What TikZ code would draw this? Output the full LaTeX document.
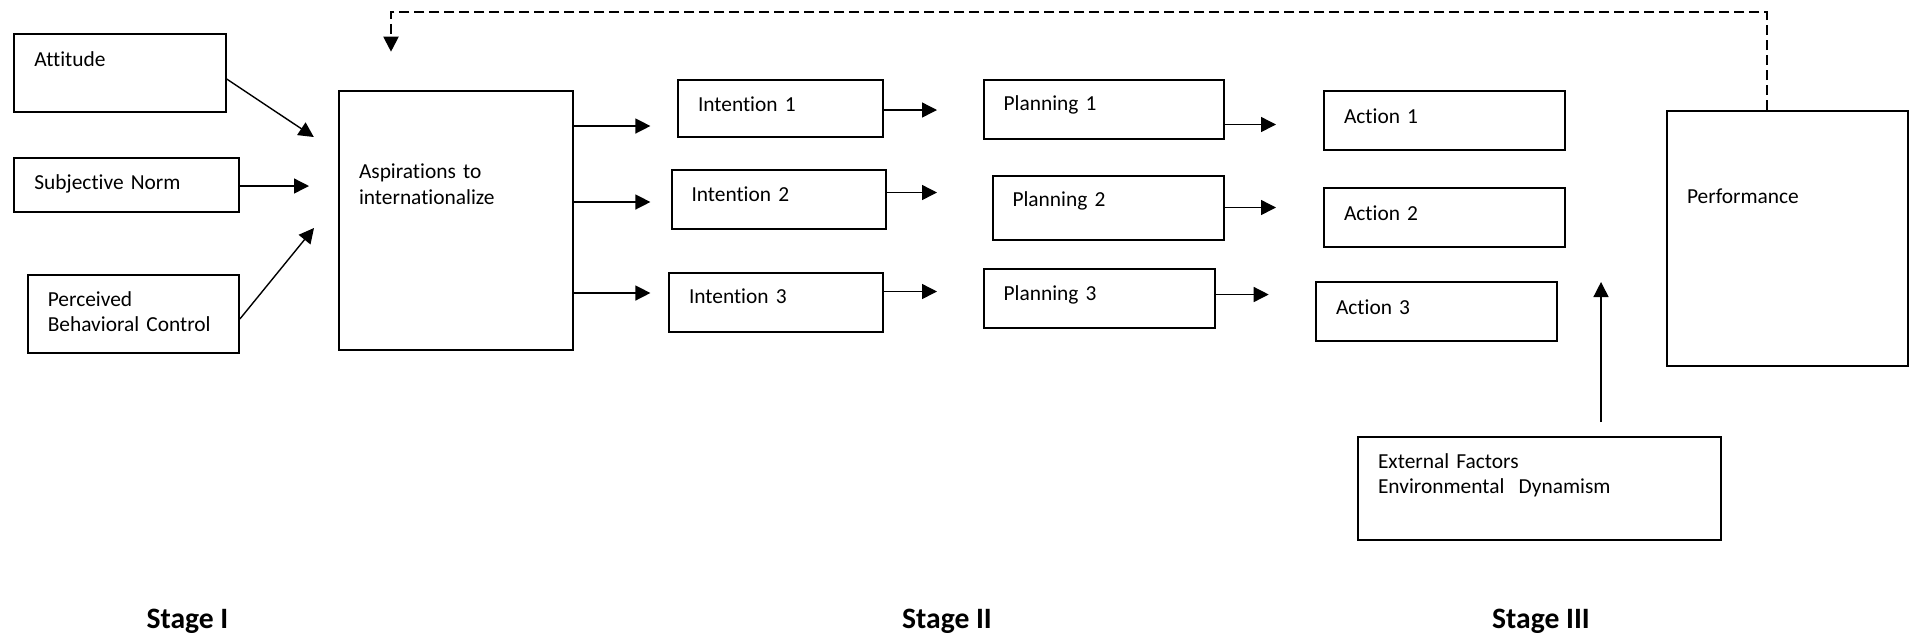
\documentclass[tikz,border=0pt]{standalone}
\usepackage{fontspec}
\setmainfont{Carlito}[Ligatures=NoCommon]
\usetikzlibrary{positioning, arrows.meta}

\tikzset{
    box/.style={draw, line width=1pt, anchor=north west, align=left,
        inner xsep=10pt, inner ysep=0pt, text height=15.5pt, text depth=13.5pt,
        font=\fontsize{10.7}{12.8}\selectfont},
    arr/.style={-{Triangle[length=7.5pt, width=7.5pt]}, line width=0.7pt},
    stage/.style={anchor=base, font=\fontsize{14.8}{17}\selectfont\bfseries}
}

\begin{document}
\begin{tikzpicture}[x=0.5pt, y=-0.5pt]
        \useasboundingbox (0,0) rectangle (1915,639);
        % stage I
        \node [box, text width=85.6pt, text height=16.2pt, text depth=22.65pt] (att) at (13.4,33.3) {Attitude};
        \node [box, text width=92.3pt, text height=15.8pt, text depth=11.35pt] (sn) at (13.4,156.7) {Subjective Norm};
        \node [box, text width=85.6pt, text height=15.5pt, text depth=23.35pt] (pbc) at (26.8,274) {Perceived\\Behavioral Control};
        \node [box, text width=97pt, text height=43.85pt, text depth=85.65pt] (asp) at (338,90) {Aspirations to\\internationalize};
        % stage II
        \node [box, text width=82.5pt, text depth=13pt] (int1) at (677,79) {Intention 1};
        \node [box, text width=87.15pt, text height=15.85pt, text depth=13.65pt] (int2) at (670.5,169) {Intention 2};
        \node [box, text width=87pt, text height=15.35pt, text depth=14.15pt] (int3) at (668,272) {Intention 3};
        \node [box, text width=100.2pt, text height=15.15pt, text depth=14.35pt] (pl1) at (982.6,79) {Planning 1};
        \node [box, text width=95.75pt, text height=15pt, text depth=17pt] (pl2) at (991.5,175) {Planning 2};
        \node [box, text width=95.7pt, text height=15.65pt, text depth=13.85pt] (pl3) at (982.6,268) {Planning 3};
        % stage III
        \node [box, text width=100.5pt, text height=16.25pt, text depth=13.25pt] (act1) at (1323,90) {Action 1};
        \node [box, text width=100.5pt, text height=16pt] (act2) at (1323,187) {Action 2};
        \node [box, text width=100.5pt, text height=16pt] (act3) at (1315,281) {Action 3};
        \node [box, text width=100.25pt, text height=46pt, text depth=81.5pt] (perf) at (1666,110) {Performance};
        \node [box, text width=161.25pt, text depth=35.8pt] (ext) at (1357,436) {External Factors\\Environmental~ Dynamism};

        \node [stage] (s1) at (187.5,628) {Stage I};
        \node [stage] (s2) at (947,628) {Stage II};
        \node [stage] (s3) at (1541,628) {Stage III};

        % arrow tips
        \coordinate (in1) at (313.8,137);
        \coordinate (in2) at (309,186);
        \coordinate (in3) at (314,228);
        \coordinate (i1) at (650.4,126);
        \coordinate (i2) at (650.4,202);
        \coordinate (i3) at (650.4,293);
        \coordinate (p1) at (937,110);
        \coordinate (p2) at (937,192.5);
        \coordinate (p3) at (937,291.5);
        \coordinate (c1) at (1276,124.5);
        \coordinate (c2) at (1276,207.5);
        \coordinate (c3) at (1268.7,294.5);
        \coordinate (up) at (1601,282);
        \coordinate (fb) at (391,12.3);
        \coordinate (fbtip) at (391,51.7);

        \draw [arr] ([yshift=-2.9pt]att.east) -- (in1);
        \draw [arr] (sn.east |- in2) -- (in2);
        \draw [arr] ([yshift=-2.5pt]pbc.east) -- (in3);
        \draw [arr] (asp.east |- i1) -- (i1);
        \draw [arr] (asp.east |- i2) -- (i2);
        \draw [arr] (asp.east |- i3) -- (i3);
        \draw [arr] (int1.east |- p1) -- (p1);
        \draw [arr] (int2.east |- p2) -- (p2);
        \draw [arr] (int3.east |- p3) -- (p3);
        \draw [arr] (pl1.east |- c1) -- (c1);
        \draw [arr] (pl2.east |- c2) -- (c2);
        \draw [arr] (pl3.east |- c3) -- (c3);
        \draw [arr, shorten <=7pt] (ext.north -| up) -- (up);
        % feedback
        \draw [arr, line width=1pt, dash pattern=on 5pt off 2.5pt] ([xshift=-10.3pt]perf.north) |- (fb) -- (fbtip);
\end{tikzpicture}
\end{document}
